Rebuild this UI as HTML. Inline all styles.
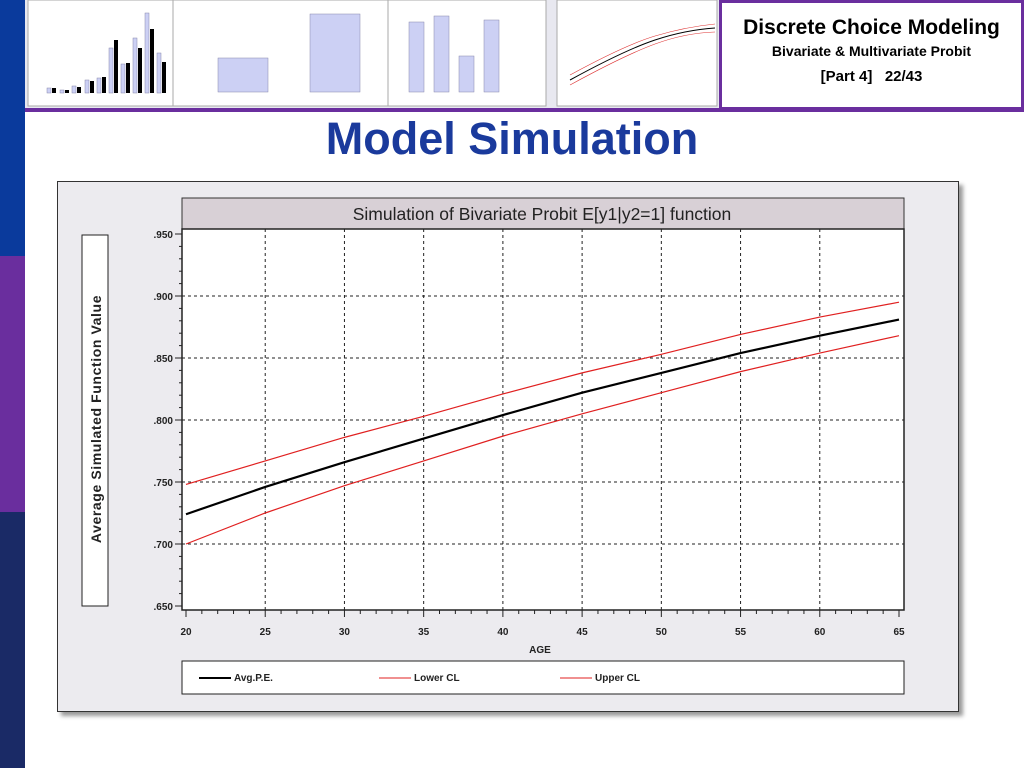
<!DOCTYPE html>
<html><head><meta charset="utf-8"><style>
body{margin:0;width:1024px;height:768px;position:relative;background:#fff;font-family:"Liberation Sans",sans-serif;overflow:hidden}
.abs{position:absolute}
</style></head><body>
<div class="abs" style="left:0;top:0;width:25px;height:256px;background:#0a3a9c"></div>
<div class="abs" style="left:0;top:256px;width:25px;height:256px;background:#6a2e9e"></div>
<div class="abs" style="left:0;top:512px;width:25px;height:256px;background:#1a2a66"></div>
<div class="abs" style="left:25px;top:0;width:695px;height:108px;background:#e8e8f0">
 <svg width="695" height="108">
  <rect x="3" y="0" width="145" height="106" fill="#fff" stroke="#aaa"/>
  <rect x="148" y="0" width="215" height="106" fill="#fff" stroke="#aaa"/>
  <rect x="363" y="0" width="158" height="106" fill="#fff" stroke="#aaa"/>
  <rect x="532" y="0" width="160" height="106" fill="#fff" stroke="#aaa"/>
  <g fill="#ccd0f4" stroke="#8888aa" stroke-width="0.5">
   <rect x="22" y="88" width="4" height="5"/><rect x="35" y="90" width="4" height="3"/><rect x="47" y="86" width="4" height="7"/><rect x="60" y="80" width="4" height="13"/><rect x="72" y="78" width="4" height="15"/><rect x="84" y="48" width="4" height="45"/><rect x="96" y="64" width="4" height="29"/><rect x="108" y="38" width="4" height="55"/><rect x="120" y="13" width="4" height="80"/><rect x="132" y="53" width="4" height="40"/>
   <rect x="193" y="58" width="50" height="34"/><rect x="285" y="14" width="50" height="78"/>
   <rect x="384" y="22" width="15" height="70"/><rect x="409" y="16" width="15" height="76"/><rect x="434" y="56" width="15" height="36"/><rect x="459" y="20" width="15" height="72"/>
  </g>
  <g fill="#000"><rect x="27" y="88" width="4" height="5"/><rect x="40" y="90" width="4" height="3"/><rect x="52" y="87" width="4" height="6"/><rect x="65" y="81" width="4" height="12"/><rect x="77" y="77" width="4" height="16"/><rect x="89" y="40" width="4" height="53"/><rect x="101" y="63" width="4" height="30"/><rect x="113" y="48" width="4" height="45"/><rect x="125" y="29" width="4" height="64"/><rect x="137" y="62" width="4" height="31"/></g>
  <path d="M545 80 Q600 50 630 40 T690 28" stroke="#000" fill="none"/>
  <path d="M545 75 Q600 45 630 36 T690 24" stroke="#d33" fill="none" stroke-width="0.6"/>
  <path d="M545 85 Q600 55 630 44 T690 32" stroke="#d33" fill="none" stroke-width="0.6"/>
 </svg>
</div>
<div class="abs" style="left:25px;top:108px;width:999px;height:4px;background:#6a2e9e"></div>
<div class="abs" style="left:719px;top:0;width:299px;height:104px;border:3px solid #6a2e9e;background:#fff;text-align:center">
 <div style="font-size:21px;font-weight:bold;margin-top:13px">Discrete Choice Modeling</div>
 <div style="font-size:14px;font-weight:bold;margin-top:3px">Bivariate &amp; Multivariate Probit</div>
 <div style="font-size:15px;font-weight:bold;margin-top:9px">[Part 4]&nbsp;&nbsp; 22/43</div>
</div>
<div class="abs" style="left:0;width:1024px;top:113px;text-align:center;font-size:45px;font-weight:bold;color:#1a3a9c">Model Simulation</div>
<div class="abs" style="left:57px;top:181px;width:900px;height:529px;background:#ecebef;border:1px solid #333;box-shadow:4px 4px 4px #999"></div>
<svg class="abs" style="left:0;top:0" width="1024" height="768" id="chart"></svg>
<script>
const ages=[20,25,30,35,40,45,50,55,60,65];
const avgPE=[.724,.746,.766,.785,.804,.822,.838,.854,.868,.881];
const lowerCL=[.700,.725,.747,.767,.787,.805,.822,.839,.854,.868];
const upperCL=[.748,.767,.786,.803,.821,.838,.853,.869,.883,.895];
const yTicks=[.650,.700,.750,.800,.850,.900,.950];
const yTickLabels=[".650",".700",".750",".800",".850",".900",".950"];
const xTicks=[20,25,30,35,40,45,50,55,60,65];
const svg=document.getElementById('chart');
const NS='http://www.w3.org/2000/svg';
const X=v=>186+(v-20)*(899-186)/45;
const Y=v=>606-(v-.65)*(606-234)/.3;
function el(t,a,p){const e=document.createElementNS(NS,t);for(const k in a)e.setAttribute(k,a[k]);(p||svg).appendChild(e);return e;}
let e;
e=el('rect',{x:182,y:198,width:722,height:31,fill:'#d8d0d6',stroke:'#333'});

e=el('text',{x:542,y:220,'text-anchor':'middle','font-size':17.5,fill:'#222'});e.textContent='Simulation of Bivariate Probit E[y1|y2=1] function';

e=el('rect',{x:182,y:229,width:722,height:381,fill:'#fff',stroke:'#222','stroke-width':1.5});

yTicks.forEach((t,i)=>{const y=Y(t);
 if(i>0&&i<yTicks.length-1){e=el('line',{x1:182,x2:904,y1:y,y2:y,stroke:'#222','stroke-dasharray':'3,3'});}
 el('line',{x1:175,x2:182,y1:y,y2:y,stroke:'#222'});
 if(i<yTicks.length-1)for(let k=1;k<5;k++){const yy=y-(k*(Y(yTicks[0])-Y(yTicks[1]))/5);el('line',{x1:179,x2:182,y1:yy,y2:yy,stroke:'#222'});}
 e=el('text',{x:173,y:y+4,'text-anchor':'end','font-size':10,'font-weight':'bold',fill:'#222'});e.textContent=yTickLabels[i];
 });
xTicks.forEach((t,i)=>{const x=X(t);
 if(i>0&&i<xTicks.length-1){e=el('line',{x1:x,x2:x,y1:229,y2:610,stroke:'#222','stroke-dasharray':'3,3'});}
 el('line',{x1:x,x2:x,y1:610,y2:617,stroke:'#222'});
 for(let k=1;k<5&&i<xTicks.length-1;k++)el('line',{x1:x+k*(X(25)-X(20))/5,x2:x+k*(X(25)-X(20))/5,y1:610,y2:614,stroke:'#222'});
 e=el('text',{x:x,y:635,'text-anchor':'middle','font-size':10,'font-weight':'bold',fill:'#222'});e.textContent=t;
 });
e=el('text',{x:540,y:653,'text-anchor':'middle','font-size':10,'font-weight':'bold',fill:'#222'});e.textContent='AGE';

e=el('rect',{x:82,y:235,width:26,height:371,fill:'#fff',stroke:'#222'});

e=el('text',{x:0,y:0,transform:'translate(101,419) rotate(-90)','text-anchor':'middle','font-size':14,'font-weight':'bold','letter-spacing':'0.6',fill:'#222'});e.textContent='Average Simulated Function Value';

function line(vals,color,w,name){const d=vals.map((v,i)=>(i?'L':'M')+X(ages[i])+' '+Y(v)).join(' ');
 const p=el('path',{d:d,fill:'none',stroke:color,'stroke-width':w});}
line(upperCL,'#e02020',1.2,'upper-cl-line');
line(lowerCL,'#e02020',1.2,'lower-cl-line');
line(avgPE,'#000',2.2,'avg-pe-line');
e=el('rect',{x:182,y:661,width:722,height:33,fill:'#fff',stroke:'#222'});

[['Avg.P.E.','#000',2,199],['Lower CL','#e02020',1,379],['Upper CL','#e02020',1,560]].forEach(l=>{
 el('line',{x1:l[3],x2:l[3]+32,y1:678,y2:678,stroke:l[1],'stroke-width':l[2]});
 e=el('text',{x:l[3]+35,y:681,'font-size':10,'font-weight':'bold',fill:'#222'});e.textContent=l[0];
 });
</script>
</body></html>
